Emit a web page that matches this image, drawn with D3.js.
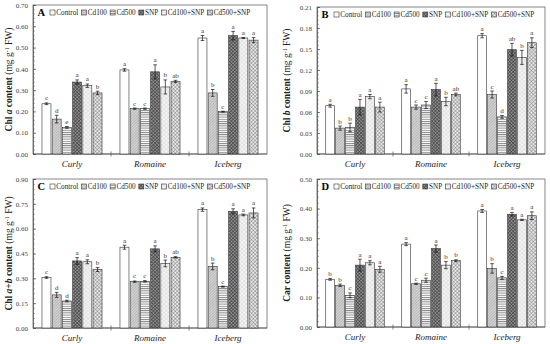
<!DOCTYPE html>
<html><head><meta charset="utf-8">
<script src="https://cdn.jsdelivr.net/npm/d3@7/dist/d3.min.js"></script>
<style>
html,body{margin:0;padding:0;background:#fff;}
svg{display:block;}
text{font-family:"Liberation Serif","Times New Roman",serif;}
</style></head>
<body>
<svg id="chart" width="550" height="344"></svg>
<script>
const categories = ["Curly", "Romaine", "Iceberg"];
const treatments = ["Control", "Cd100", "Cd500", "SNP", "Cd100+SNP", "Cd500+SNP"];

// Panel A: Chl a
const chlA = [[0.236,0.164,0.125,0.338,0.321,0.287],[0.395,0.213,0.213,0.386,0.315,0.341],[0.545,0.287,0.199,0.556,0.545,0.535]];
const chlAErr = [[0.004,0.018,0.004,0.010,0.008,0.008],[0.006,0.003,0.003,0.033,0.033,0.005],[0.012,0.016,0.002,0.020,0.002,0.012]];
const chlALet = [["c","d","e","a","a","b"],["a","c","c","a","b","ab"],["a","b","c","a","a","a"]];
const chlATicks = [0,0.1,0.2,0.3,0.4,0.5,0.6,0.7];

// Panel B: Chl b
const chlB = [[0.069,0.037,0.038,0.067,0.082,0.067],[0.093,0.067,0.070,0.092,0.075,0.085],[0.169,0.085,0.053,0.149,0.138,0.159]];
const chlBErr = [[0.002,0.003,0.006,0.011,0.003,0.007],[0.006,0.003,0.005,0.009,0.006,0.002],[0.003,0.005,0.002,0.009,0.010,0.007]];
const chlBLet = [["a","b","b","a","a","a"],["a","c","c","a","b","ab"],["a","c","d","ab","b","a"]];
const chlBTicks = [0,0.03,0.06,0.09,0.12,0.15,0.18,0.21];

// Panel C: Chl a+b
const chlAB = [[0.305,0.200,0.163,0.405,0.400,0.353],[0.488,0.280,0.282,0.478,0.390,0.427],[0.715,0.372,0.250,0.705,0.683,0.695]];
const chlABErr = [[0.005,0.015,0.005,0.020,0.012,0.012],[0.012,0.004,0.004,0.018,0.020,0.004],[0.010,0.020,0.003,0.015,0.005,0.030]];
const chlABLet = [["c","d","d","a","a","b"],["a","c","c","a","b","ab"],["a","b","c","a","a","a"]];
const chlABTicks = [0,0.15,0.30,0.45,0.60,0.75,0.90];

// Panel D: Car
const car = [[0.161,0.141,0.107,0.209,0.217,0.195],[0.280,0.146,0.158,0.265,0.209,0.224],[0.392,0.198,0.166,0.381,0.362,0.376]];
const carErr = [[0.003,0.004,0.008,0.020,0.007,0.010],[0.005,0.002,0.007,0.012,0.012,0.003],[0.005,0.016,0.005,0.006,0.002,0.013]];
const carLet = [["b","b","c","a","a","a"],["a","c","c","a","b","b"],["a","b","c","a","a","a"]];
const carTicks = [0,0.1,0.2,0.3,0.4,0.5];

const svg = d3.select("#chart");
const defs = svg.append("defs");

// patterns
function pat(id, size, bg, draw, rotate) {
  const p = defs.append("pattern").attr("id", id).attr("patternUnits", "userSpaceOnUse")
    .attr("width", size).attr("height", size);
  if (rotate) p.attr("patternTransform", "rotate(" + rotate + ")");
  p.append("rect").attr("width", size).attr("height", size).attr("fill", bg);
  draw(p, size);
}
pat("p0", 4, "#ffffff", () => {});
pat("p1", 2, "#d6d6d6", (p, s) => {
  p.append("line").attr("x1", 0).attr("y1", 0).attr("x2", 0).attr("y2", s).attr("stroke", "#8a8a8a").attr("stroke-width", 0.8);
}, 45);
pat("p2", 2.2, "#ffffff", (p, s) => {
  p.append("line").attr("x1", 0).attr("y1", 0.5).attr("x2", s).attr("y2", 0.5).attr("stroke", "#7a7a7a").attr("stroke-width", 0.9);
});
pat("p3", 2.4, "#8e8e8e", (p, s) => {
  p.append("line").attr("x1", 0).attr("y1", 0).attr("x2", 0).attr("y2", s).attr("stroke", "#333").attr("stroke-width", 1.0);
  p.append("line").attr("x1", 0).attr("y1", 0).attr("x2", s).attr("y2", 0).attr("stroke", "#333").attr("stroke-width", 1.0);
}, 45);
pat("p4", 3, "#f4f4f4", (p, s) => {
  p.append("line").attr("x1", 0).attr("y1", 0).attr("x2", 0).attr("y2", s).attr("stroke", "#c4c4c4").attr("stroke-width", 0.6);
  p.append("line").attr("x1", 0).attr("y1", 0).attr("x2", s).attr("y2", 0).attr("stroke", "#c4c4c4").attr("stroke-width", 0.6);
}, 45);
pat("p5", 2.6, "#e8e8e8", (p, s) => {
  p.append("line").attr("x1", 0).attr("y1", 0).attr("x2", 0).attr("y2", s).attr("stroke", "#6e6e6e").attr("stroke-width", 0.8);
  p.append("line").attr("x1", 0).attr("y1", 0).attr("x2", s).attr("y2", 0).attr("stroke", "#6e6e6e").attr("stroke-width", 0.8);
}, 45);
const fills = treatments.map((t, i) => "url(#p" + i + ")");

const panels = [
  {letter: "A", vals: chlA, errs: chlAErr, lets: chlALet, ticks: chlATicks,
   left: 33, right: 267, top: 5, bottom: 154, titleX: 12,
   title: [["Chl ", "bold", "normal"], ["a", "bold", "italic"], [" content", "bold", "normal"], ["  (mg g", "normal", "normal"], ["-1", "sup"], [" FW)", "normal", "normal"]]},
  {letter: "B", vals: chlB, errs: chlBErr, lets: chlBLet, ticks: chlBTicks,
   left: 317, right: 545, top: 7, bottom: 154, titleX: 290,
   title: [["Chl ", "bold", "normal"], ["b", "bold", "italic"], [" content", "bold", "normal"], ["  (mg g", "normal", "normal"], ["-1", "sup"], [" FW)", "normal", "normal"]]},
  {letter: "C", vals: chlAB, errs: chlABErr, lets: chlABLet, ticks: chlABTicks,
   left: 33, right: 267, top: 179, bottom: 328, titleX: 12,
   title: [["Chl ", "bold", "normal"], ["a+b", "bold", "italic"], [" content", "bold", "normal"], ["  (mg g", "normal", "normal"], ["-1", "sup"], [" FW)", "normal", "normal"]]},
  {letter: "D", vals: car, errs: carErr, lets: carLet, ticks: carTicks,
   left: 317, right: 545, top: 179, bottom: 327, titleX: 290,
   title: [["Car content", "bold", "normal"], ["  (mg g", "normal", "normal"], ["-1", "sup"], [" FW)", "normal", "normal"]]}
];

panels.forEach(P => {
  const g = svg.append("g");
  const yMax = P.ticks[P.ticks.length - 1];
  const y = d3.scaleLinear().domain([0, yMax]).range([P.bottom, P.top]);
  const x0 = d3.scaleBand().domain(categories).range([P.left, P.right]).padding(0);
  const bw = x0.bandwidth();
  const x1 = d3.scaleBand().domain(treatments).range([bw * 0.115, bw * 0.885]).paddingInner(0.12);

  // frame
  g.append("rect").attr("x", P.left).attr("y", P.top).attr("width", P.right - P.left)
    .attr("height", P.bottom - P.top).attr("fill", "none").attr("stroke", "#6a6a6a").attr("stroke-width", 0.8);

  // minor ticks
  const step = P.ticks[1] - P.ticks[0];
  const minor = d3.range(0, yMax + 1e-9, step / 5);
  g.append("g").attr("transform", "translate(" + P.left + ",0)")
    .call(d3.axisLeft(y).tickValues(minor).tickSize(-1.8).tickFormat(""))
    .call(a => a.select(".domain").remove())
    .call(a => a.selectAll("line").attr("stroke", "#6a6a6a").attr("stroke-width", 0.6));
  // major axis
  g.append("g").attr("transform", "translate(" + P.left + ",0)")
    .call(d3.axisLeft(y).tickValues(P.ticks).tickSize(-3).tickPadding(5).tickFormat(d3.format(".2f")))
    .call(a => a.select(".domain").attr("stroke", "#555").attr("stroke-width", 0.8))
    .call(a => a.selectAll("line").attr("stroke", "#555").attr("stroke-width", 0.7))
    .call(a => a.selectAll("text").attr("font-family", "Liberation Serif, serif").attr("font-size", 7).attr("fill", "#444"));

  // baseline and group separators
  g.append("line").attr("x1", P.left).attr("x2", P.right).attr("y1", y(0)).attr("y2", y(0))
    .attr("stroke", "#555").attr("stroke-width", 0.8);
  categories.slice(1).forEach(c => {
    g.append("line").attr("x1", x0(c)).attr("x2", x0(c)).attr("y1", y(0) - 2.5).attr("y2", y(0) + 2.5)
      .attr("stroke", "#555").attr("stroke-width", 0.7);
  });

  // category labels
  g.selectAll("text.cat").data(categories).join("text").attr("class", "cat")
    .attr("x", d => x0(d) + bw / 2).attr("y", P.bottom + 12.5)
    .attr("text-anchor", "middle").attr("font-size", 9).attr("font-style", "italic").attr("fill", "#222")
    .text(d => d);

  // bars
  categories.forEach((c, i) => {
    const gg = g.append("g").attr("transform", "translate(" + x0(c) + ",0)");
    treatments.forEach((t, j) => {
      const v = P.vals[i][j], e = P.errs[i][j];
      const bx = x1(t), w = x1.bandwidth(), cx = bx + w / 2;
      gg.append("rect").attr("x", bx).attr("y", y(v)).attr("width", w).attr("height", y(0) - y(v))
        .attr("fill", fills[j]).attr("stroke", "#333").attr("stroke-width", 0.6);
      gg.append("line").attr("x1", cx).attr("x2", cx).attr("y1", y(v - e)).attr("y2", y(v + e))
        .attr("stroke", "#111").attr("stroke-width", 0.7);
      [v - e, v + e].forEach(vv => {
        gg.append("line").attr("x1", cx - 1.8).attr("x2", cx + 1.8).attr("y1", y(vv)).attr("y2", y(vv))
          .attr("stroke", "#111").attr("stroke-width", 0.7);
      });
      gg.append("text").attr("x", cx).attr("y", y(v + e) - 2.5).attr("text-anchor", "middle")
        .attr("font-size", 7).attr("fill", "#333").text(P.lets[i][j]);
    });
  });

  // panel letter
  g.append("text").attr("x", P.left + 4.5).attr("y", P.top + 11).attr("font-size", 10.5)
    .attr("font-weight", "bold").text(P.letter);

  // legend
  let lx = P.left + 17;
  const ly = P.top + 7.5;
  treatments.forEach((t, j) => {
    g.append("rect").attr("x", lx).attr("y", ly - 2.5).attr("width", 5).attr("height", 5)
      .attr("fill", fills[j]).attr("stroke", "#333").attr("stroke-width", 0.6);
    const tx = g.append("text").attr("x", lx + 6.3).attr("y", ly + 2.5).attr("font-size", 7.2).attr("fill", "#222").text(t);
    lx += 6.3 + tx.node().getComputedTextLength() + 3.2;
  });

  // y title
  const ty = (P.top + P.bottom) / 2;
  const title = g.append("text").attr("transform", "translate(" + P.titleX + "," + ty + ") rotate(-90)")
    .attr("text-anchor", "middle").attr("font-size", 9.5).attr("fill", "#222");
  P.title.forEach(s => {
    if (s[1] === "sup") {
      title.append("tspan").attr("font-size", 6).attr("dy", -3.5).text(s[0]);
    } else {
      const ts = title.append("tspan").attr("font-weight", s[1]).attr("font-style", s[2]).text(s[0]);
      if (s[0].startsWith(" FW")) ts.attr("dy", 3.5);
    }
  });
});
</script>
</body></html>
